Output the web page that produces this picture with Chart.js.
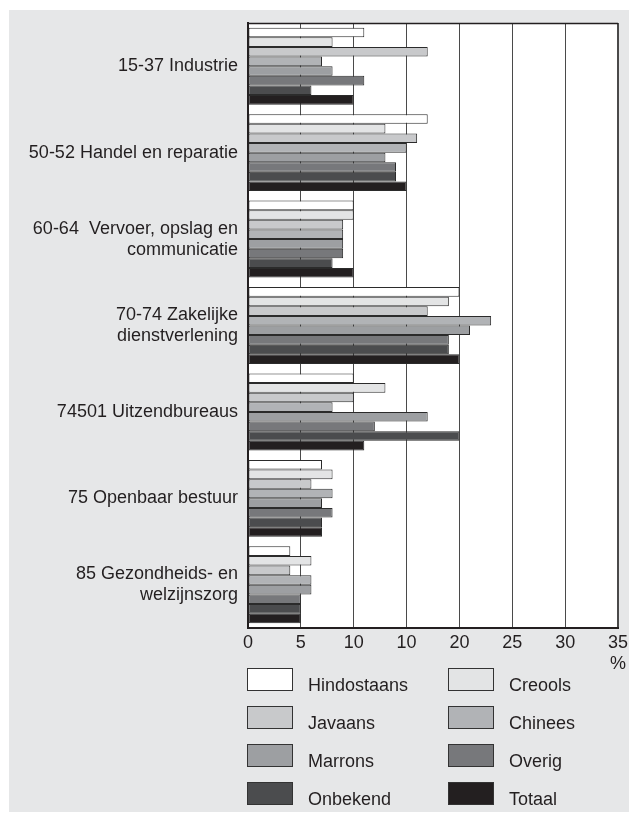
<!DOCTYPE html>
<html>
<head>
<meta charset="utf-8">
<script src="https://cdn.jsdelivr.net/npm/chart.js@4"></script>
<style>
  html, body { margin: 0; padding: 0; background: #ffffff; }
  #wrap { width: 629px; height: 813px; }
</style>
</head>
<body>
<div id="wrap"><canvas id="grafiek" width="629" height="813"></canvas></div>
<script>
// sectoren (y-as)
const sectoren = [
  '15-37 Industrie',
  '50-52 Handel en reparatie',
  ['60-64  Vervoer, opslag en', 'communicatie'],
  ['70-74 Zakelijke', 'dienstverlening'],
  '74501 Uitzendbureaus',
  '75 Openbaar bestuur',
  ['85 Gezondheids- en', 'welzijnszorg']
];

// percentages per herkomstgroep
const hindostaans = [11, 17, 10, 20, 10, 7, 4];
const creools     = [8, 13, 10, 19, 13, 8, 6];
const javaans     = [17, 16, 9, 17, 10, 6, 4];
const chinees     = [7, 15, 9, 23, 8, 8, 6];
const marrons     = [8, 13, 9, 21, 17, 7, 6];
const overig      = [11, 14, 9, 19, 12, 8, 5];
const onbekend    = [6, 14, 8, 19, 20, 7, 5];
const totaal      = [10, 15, 10, 20, 11, 7, 5];

// labels onder de x-as (zoals in het origineel, met de dubbele 10)
const xLabels = ['0', '5', '10', '10', '20', '25', '30', '35'];

const groepen = ['Hindostaans', 'Creools', 'Javaans', 'Chinees', 'Marrons', 'Overig', 'Onbekend', 'Totaal'];
const kleuren = ['#ffffff', '#e3e4e5', '#c8c9cb', '#b1b3b6', '#9d9fa2', '#77787b', '#4b4c4e', '#231f20'];
const reeksen = [hindostaans, creools, javaans, chinees, marrons, overig, onbekend, totaal];

const lettertype = "'Liberation Sans', Arial, sans-serif";
const tekstKleur = '#231f20';

const achtergrond = {
  id: 'achtergrond',
  beforeDraw(chart) {
    const c = chart.ctx;
    const ca = chart.chartArea;
    c.save();
    c.fillStyle = '#ffffff';
    c.fillRect(0, 0, chart.width, chart.height);
    c.fillStyle = '#e6e7e8';
    c.fillRect(9, 10, chart.width - 9, 802);
    c.fillStyle = '#ffffff';
    c.fillRect(ca.left, ca.top, ca.right - ca.left, ca.bottom - ca.top);
    c.restore();
  },
  afterDraw(chart) {
    const c = chart.ctx;
    const ca = chart.chartArea;
    c.save();
    // bovenrand
    c.strokeStyle = tekstKleur;
    c.lineWidth = 1.5;
    c.beginPath();
    c.moveTo(ca.left, ca.top + 0.5);
    c.lineTo(ca.right, ca.top + 0.5);
    c.stroke();

    // % teken onder de 35
    c.fillStyle = tekstKleur;
    c.font = '18px ' + lettertype;
    c.textAlign = 'center';
    c.textBaseline = 'middle';
    c.fillText('%', ca.right, 664);

    // legenda in twee kolommen
    chart.data.datasets.forEach((ds, i) => {
      const kol = i % 2;
      const rij = Math.floor(i / 2);
      const x = 247 + kol * 201;
      const y = 668 + rij * 38;
      c.fillStyle = ds.backgroundColor;
      c.fillRect(x, y, 46, 23);
      c.strokeStyle = '#333333';
      c.lineWidth = 1;
      c.strokeRect(x + 0.5, y + 0.5, 45, 22);
      c.fillStyle = tekstKleur;
      c.textAlign = 'left';
      c.textBaseline = 'alphabetic';
      c.fillText(ds.label, x + 61, y + 23);
    });
    c.restore();
  }
};

const ctx = document.getElementById('grafiek');

new Chart(ctx, {
  type: 'bar',
  data: {
    labels: sectoren,
    datasets: groepen.map((g, i) => ({
      label: g,
      data: reeksen[i],
      backgroundColor: kleuren[i],
      borderColor: '#2b2b2b',
      borderWidth: 1,
      borderSkipped: false,
      barPercentage: 1,
      categoryPercentage: 0.89
    }))
  },
  options: {
    indexAxis: 'y',
    responsive: false,
    animation: false,
    devicePixelRatio: 1,
    layout: { padding: { top: 23, right: 11, left: 0, bottom: 0 } },
    plugins: {
      legend: { display: false },
      tooltip: { enabled: false }
    },
    scales: {
      x: {
        min: 0,
        max: 35,
        afterFit: s => {
          s.height = 185;
          s.paddingLeft = 0;
          s.paddingRight = 0;
        },
        ticks: {
          stepSize: 5,
          padding: 4,
          color: tekstKleur,
          font: { family: lettertype, size: 18 },
          callback: (v, i) => xLabels[i]
        },
        grid: {
          drawTicks: false,
          color: '#4a4a4a',
          lineWidth: c => (c.tick && c.tick.value === 35 ? 2 : 1)
        },
        border: { color: tekstKleur, width: 2 }
      },
      y: {
        afterFit: s => {
          s.width = 248;
          s.paddingTop = 0;
          s.paddingBottom = 0;
        },
        ticks: {
          padding: 10,
          color: tekstKleur,
          font: { family: lettertype, size: 18, lineHeight: 1.17 }
        },
        grid: { display: false, drawTicks: false },
        border: { color: tekstKleur, width: 2 }
      }
    }
  },
  plugins: [achtergrond]
});
</script>
</body>
</html>
